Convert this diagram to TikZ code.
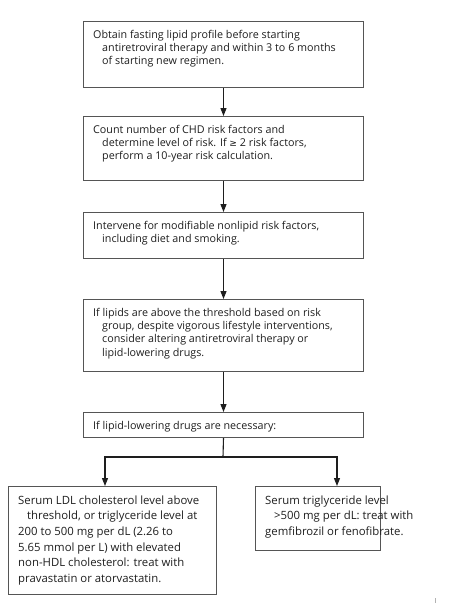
\documentclass[tikz,border=0pt]{standalone}
\usepackage{fontspec}
\setmainfont{Open Sans}
\newfontfamily\symf{DejaVu Sans}[Scale=0.85]
\usetikzlibrary{arrows.meta}
\newlength\calA
\newlength\calB
\definecolor{edge}{RGB}{85,85,85}
\definecolor{ink}{RGB}{30,30,30}
\newcommand\tstr{\rule{0pt}{8pt}}
\newcommand\bstr{\rule{0pt}{10pt}}
\newcommand\ind{\hspace*{9pt}}
\tikzset{
  box/.style={draw=edge, line width=1pt, inner sep=0pt, anchor=north west},
  txt/.style={anchor=north west, inner sep=0pt, align=left, text=ink,
    font=\fontsize{\topfs pt}{13.2pt}\selectfont},
  btxt/.style={anchor=north west, inner sep=0pt, align=left, text=ink,
    font=\fontsize{\botfs pt}{15.6pt}\selectfont},
  arr/.style={draw=ink, line width=1.1pt, -{Triangle[length=8pt,width=6pt]}},
  lnk/.style={draw=ink, line width=1.1pt},
}
\begin{document}
\settowidth\calA{\fontsize{10pt}{12pt}\selectfont Obtain fasting lipid profile before starting}
\settowidth\calB{\fontsize{10pt}{12pt}\selectfont Serum LDL cholesterol level above}
\pgfmathsetmacro\topfs{1.2*10*172.3/\calA}
\pgfmathsetmacro\botfs{10*181/\calB}
\begin{tikzpicture}[x=1pt,y=-1pt]
\useasboundingbox (0,0) rectangle (450,603);
% boxes
\node[box, minimum width=280pt, minimum height=66pt] (b1) at (83,21) {};
\node[box, minimum width=280pt, minimum height=64pt] (b2) at (83,116) {};
\node[box, minimum width=280pt, minimum height=46pt] (b3) at (83,212) {};
\node[box, minimum width=280pt, minimum height=72pt] (b4) at (83,299) {};
\node[box, minimum width=280pt, minimum height=25pt] (b5) at (83,412) {};
\node[box, minimum width=208pt, minimum height=108pt] (bl) at (8,486) {};
\node[box, minimum width=125pt, minimum height=64pt] (br) at (255,486) {};
% texts
\node[txt, xshift=10pt, yshift=-9pt] (t1) at (b1.north west)
  {\tstr Obtain fasting lipid profile before starting\\
   \ind antiretroviral therapy and within 3 to 6 months\\
   \ind of starting new regimen.};
\node[txt, xshift=10pt, yshift=-9pt] (t2) at (b2.north west)
  {\tstr Count number of CHD risk factors and\\
   \ind determine level of risk. If {\symf ≥} 2 risk factors,\\
   \ind perform a 10-year risk calculation.};
\node[txt, xshift=10pt, yshift=-9pt] (t3) at (b3.north west)
  {\tstr Intervene for modifiable nonlipid risk factors,\\
   \ind including diet and smoking.};
\node[txt, xshift=10pt, yshift=-9pt] (t4) at (b4.north west)
  {\tstr If lipids are above the threshold based on risk\\
   \ind group, despite vigorous lifestyle interventions,\\
   \ind consider altering antiretroviral therapy or\\
   \ind lipid-lowering drugs.};
\node[txt, xshift=10pt, yshift=-9pt] (t5) at (b5.north west)
  {\tstr If lipid-lowering drugs are necessary:};
\node[btxt, xshift=10pt, yshift=-8pt] (tl) at (bl.north west)
  {\bstr Serum LDL cholesterol level above\\
   \ind threshold, or triglyceride level at\\
   200 to 500 mg per dL (2.26 to\\
   5.65 mmol per L) with elevated\\
   non-HDL cholesterol: treat with\\
   pravastatin or atorvastatin.};
\node[btxt, xshift=10pt, yshift=-8pt] (tr) at (br.north west)
  {\bstr Serum triglyceride level\\
   \ind >500 mg per dL: treat with\\
   gemfibrozil or fenofibrate.};
% connectors
\draw[arr] (b1.south) -- (b2.north);
\draw[arr] (b2.south) -- (b3.north);
\draw[arr] (b3.south) -- (b4.north);
\draw[arr] (b4.south) -- (b5.north);
\coordinate (jn) at (223,457);
\coordinate (jl) at (105,457);
\coordinate (jr) at (337,457);
\draw[lnk] (b5.south) -- (jn);
\draw[lnk] ([xshift=-0.55pt]jl) -- ([xshift=0.55pt]jr);
\draw[arr] (jl) -- (jl |- bl.north);
\draw[arr] (jr) -- (jr |- br.north);
% stray mark
\draw[black!30, line width=1.5pt] (435.5,598) -- (435.5,603);
\end{tikzpicture}
\end{document}
